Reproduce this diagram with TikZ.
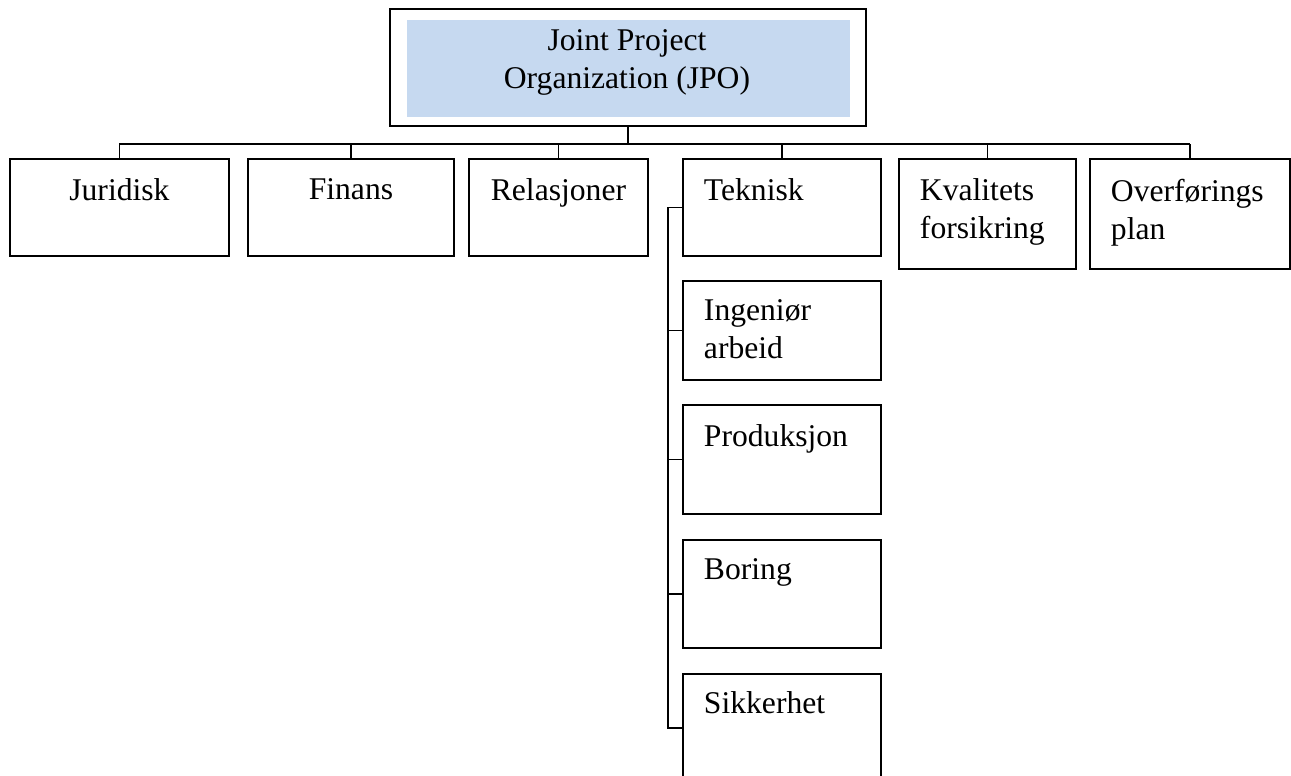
\documentclass[tikz,border=0pt]{standalone}
\usepackage{fontspec}
\setmainfont{Liberation Serif}
\usepackage{tikz}
\definecolor{jpoblue}{RGB}{198,217,240}
\newcommand{\orgFont}[0]{\fontsize{18}{21.5}\selectfont}

\begin{document}
\begin{tikzpicture}[x=0.02cm, y=-0.02cm, line width=1.1pt]
  \tikzset{
    unit/.style={draw, rectangle, inner sep=0pt, anchor=north west},
    unit text/.style={inner sep=0pt, font=\orgFont, anchor=north, align=center},
    side text/.style={inner sep=0pt, font=\orgFont, anchor=north west, align=left},
    link/.style={line width=0.9pt}
  }
  \clip (0,0) rectangle (1291,775);

  % top unit
  \node[unit, minimum width=9.52cm, minimum height=2.34cm] (jpo) at (389,8) {};
  \node[fill=jpoblue, anchor=north west, inner sep=0pt,
        minimum width=8.86cm, minimum height=1.94cm] (jpofill) at (406,19) {};
  \node[unit text] (jpotext) at (627,29) {Joint Project\\Organization (JPO)};

  % first level
  \node[unit, minimum width=4.38cm, minimum height=1.94cm] (jur) at (9,158) {};
  \node[unit, minimum width=4.12cm, minimum height=1.94cm] (fin) at (247,158) {};
  \node[unit, minimum width=3.58cm, minimum height=1.94cm] (rel) at (468,158) {};
  \node[unit, minimum width=3.96cm, minimum height=1.94cm] (tek) at (682,158) {};
  \node[unit, minimum width=3.54cm, minimum height=2.20cm] (kva) at (898,158) {};
  \node[unit, minimum width=4.00cm, minimum height=2.20cm] (ovf) at (1089,158) {};

  \node[unit text] (jurtext) at ([yshift=-0.4cm]jur.north) {Juridisk};
  \node[unit text] (fintext) at ([yshift=-0.4cm]fin.north) {Finans};
  \node[unit text] (reltext) at ([yshift=-0.4cm]rel.north) {Relasjoner};
  \node[side text] (tektext) at ([xshift=0.42cm, yshift=-0.4cm]tek.north west) {Teknisk};
  \node[side text] (kvatext) at ([xshift=0.42cm, yshift=-0.4cm]kva.north west) {Kvalitets\\forsikring};
  \node[side text] (ovftext) at ([xshift=0.42cm, yshift=-0.4cm]ovf.north west) {Overførings\\plan};

  % under Teknisk
  \node[unit, minimum width=3.96cm, minimum height=1.98cm] (ing) at (682,280) {};
  \node[unit, minimum width=3.96cm, minimum height=2.18cm] (pro) at (682,404) {};
  \node[unit, minimum width=3.96cm, minimum height=2.16cm] (bor) at (682,539) {};
  \node[unit, minimum width=3.96cm, minimum height=2.16cm] (sik) at (682,673) {};

  \node[side text] (ingtext) at ([xshift=0.42cm, yshift=-0.38cm]ing.north west) {Ingeniør\\arbeid};
  \node[side text] (protext) at ([xshift=0.42cm, yshift=-0.4cm]pro.north west) {Produksjon};
  \node[side text] (bortext) at ([xshift=0.42cm, yshift=-0.38cm]bor.north west) {Boring};
  \node[side text] (siktext) at ([xshift=0.42cm, yshift=-0.36cm]sik.north west) {Sikkerhet};

  % connectors
  \coordinate (bus) at (627,144);
  \coordinate (spine) at (668,207);
  \draw[link] (jpo.south) -- (jpo.south |- bus);
  \draw[link] (jur.north |- bus) -- (ovf.north |- bus);
  \foreach \n in {jur,fin,rel,tek,kva,ovf}
    \draw[link] (\n.north) -- (\n.north |- bus);
  \draw[link] (tek.west) -- (tek.west -| spine) -- (sik.west -| spine) -- (sik.west);
  \foreach \n in {ing,pro,bor}
    \draw[link] (\n.west) -- (\n.west -| spine);
\end{tikzpicture}
\end{document}
